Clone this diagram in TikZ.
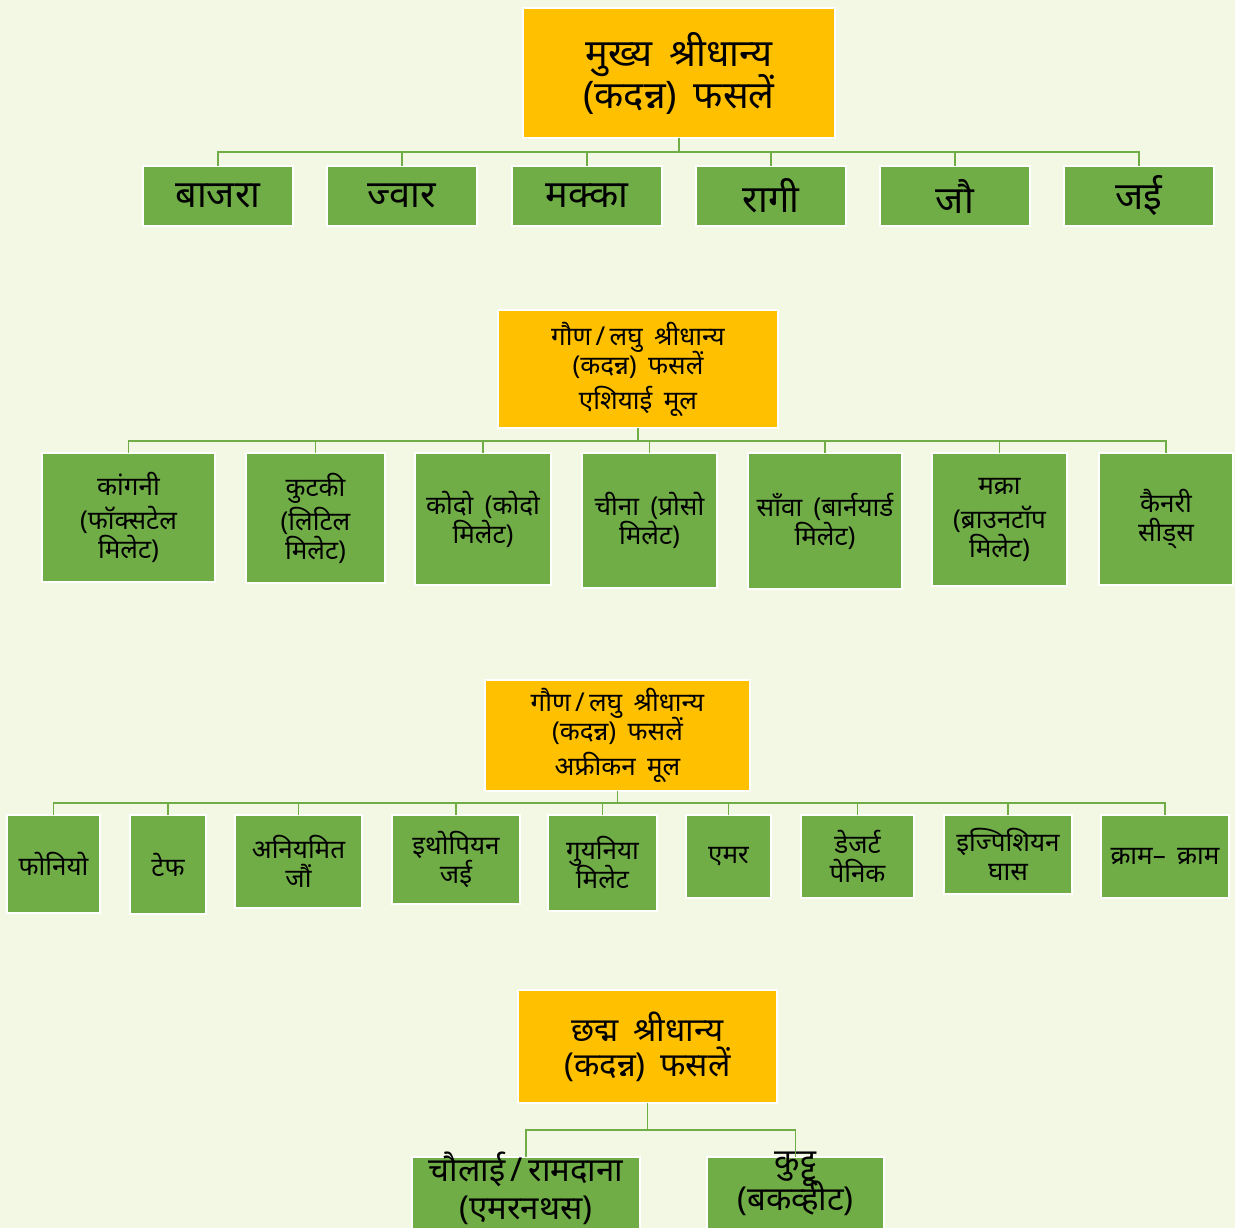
\documentclass[tikz,border=0pt]{standalone}
\usepackage{fontspec}
\setmainfont[Script=Devanagari, WordSpace=1.7]{Noto Sans}
\definecolor{bgc}{HTML}{F3F8E4}
\definecolor{orgc}{HTML}{FFC000}
\definecolor{grnc}{HTML}{70AD47}
\definecolor{lnc}{HTML}{70AD47}
\newcommand\mytightlines{\lineskiplimit=-100pt\relax}
\tikzset{
  rootbox/.style={fill=orgc, draw=white, line width=2pt, inner sep=0pt, outer sep=0pt, align=center, text=black},
  leafbox/.style={fill=grnc, draw=white, line width=2pt, inner sep=0pt, outer sep=0pt, align=center, text=black},
  conn/.style={draw=lnc, line width=1.6pt},
  fbig/.style={font=\fontsize{38}{42}\selectfont\mytightlines},
  fmid/.style={font=\fontsize{33}{35}\selectfont\mytightlines},
  fsmall/.style={font=\fontsize{26}{29}\selectfont\mytightlines},
}
\begin{document}
\begin{tikzpicture}[x=1pt,y=-1pt]
\useasboundingbox (0,0) rectangle (1235,1228);
\clip (0,0) rectangle (1235,1228);
\fill[bgc] (0,0) rectangle (1235,1228);

% ---------- group 1
\node[rootbox, fbig, minimum width=312, minimum height=130] (r1) at (679,73) {मुख्य श्रीधान्य\\(कदन्न) फसलें};
\coordinate (b1) at (0,152);
\foreach \n/\x/\t in {a1/218/बाजरा, a2/402/ज्वार, a3/587/मक्का, a4/771/रागी, a5/955/जौ, a6/1139/जई}{
  \node[leafbox, fbig, minimum width=150, minimum height=60] (\n) at (\x,196) {\t};
  \draw[conn] (r1.south) -- (r1.south |- b1) -| (\n.north);
}

% ---------- group 2
\node[rootbox, fsmall, minimum width=280, minimum height=118] (r2) at (638,369) {गौण\,/\,लघु श्रीधान्य\\(कदन्न) फसलें\\[6pt]एशियाई मूल};
\coordinate (b2) at (0,441);
\node[leafbox, fsmall, minimum width=173, minimum height=129] (c1) at (128.5,517.5) {कांगनी\\[5pt](फॉक्सटेल\\मिलेट)};
\node[leafbox, fsmall, minimum width=139, minimum height=130] (c2) at (315.5,518) {कुटकी\\[5pt](लिटिल\\मिलेट)};
\node[leafbox, fsmall, minimum width=136, minimum height=132] (c3) at (483,519) {कोदो (कोदो\\मिलेट)};
\node[leafbox, fsmall, minimum width=135, minimum height=135] (c4) at (649.5,520.5) {चीना (प्रोसो\\मिलेट)};
\node[leafbox, fsmall, minimum width=154, minimum height=136] (c5) at (825,521) {साँवा (बार्नयार्ड\\मिलेट)};
\node[leafbox, fsmall, minimum width=135, minimum height=133] (c6) at (999.5,519.5) {मक्रा\\[5pt](ब्राउनटॉप\\मिलेट)};
\node[leafbox, fsmall, minimum width=134, minimum height=132] (c7) at (1166,519) {कैनरी\\सीड्स};
\foreach \n in {c1,c2,c3,c4,c5,c6,c7}{
  \draw[conn] (r2.south) -- (r2.south |- b2) -| (\n.north);
}

% ---------- group 3
\node[rootbox, fsmall, minimum width=265, minimum height=111] (r3) at (617.5,735.5) {गौण\,/\,लघु श्रीधान्य\\(कदन्न) फसलें\\[6pt]अफ्रीकन मूल};
\coordinate (b3) at (0,803);
\node[leafbox, fsmall, minimum width=93, minimum height=98] (d1) at (53.5,864) {फोनियो};
\node[leafbox, fsmall, minimum width=76, minimum height=99] (d2) at (168,864.5) {टेफ};
\node[leafbox, fsmall, minimum width=127, minimum height=93] (d3) at (298.5,861.5) {अनियमित\\जौं};
\node[leafbox, fsmall, minimum width=128, minimum height=89] (d4) at (456,859.5) {इथोपियन\\जई};
\node[leafbox, fsmall, minimum width=109, minimum height=96] (d5) at (602.5,863) {गुयनिया\\मिलेट};
\node[leafbox, fsmall, minimum width=85, minimum height=83] (d6) at (728.5,856.5) {एमर};
\node[leafbox, fsmall, minimum width=113, minimum height=83] (d7) at (857.5,856.5) {डेजर्ट\\पेनिक};
\node[leafbox, fsmall, minimum width=128, minimum height=79] (d8) at (1008,854.5) {इज्पिशियन\\घास};
\node[leafbox, fsmall, minimum width=128, minimum height=83] (d9) at (1165,856.5) {क्राम– क्राम};
\foreach \n in {d1,d2,d3,d4,d5,d6,d7,d8,d9}{
  \draw[conn] (r3.south) -- (r3.south |- b3) -| (\n.north);
}

% ---------- group 4
\node[rootbox, fmid, minimum width=259, minimum height=113] (r4) at (647.5,1046.5) {छद्म श्रीधान्य\\(कदन्न) फसलें};
\coordinate (b4) at (0,1130);
\node[leafbox, minimum width=228, minimum height=110, anchor=north,
  label={[fmid, align=center, anchor=north, inner sep=0pt, yshift=5pt]north:चौलाई\,/\,रामदाना\\[3pt](एमरनथस)}] (e1) at (526,1157) {};
\node[leafbox, minimum width=177, minimum height=110, anchor=north,
  label={[fmid, align=center, anchor=north, inner sep=0pt, yshift=5pt]north:कुट्टू\\[3pt](बकव्हीट)}] (e2) at (795.5,1157) {};
\foreach \n in {e1,e2}{
  \draw[conn] (r4.south) -- (r4.south |- b4) -| (\n.north);
}
\end{tikzpicture}
\end{document}
